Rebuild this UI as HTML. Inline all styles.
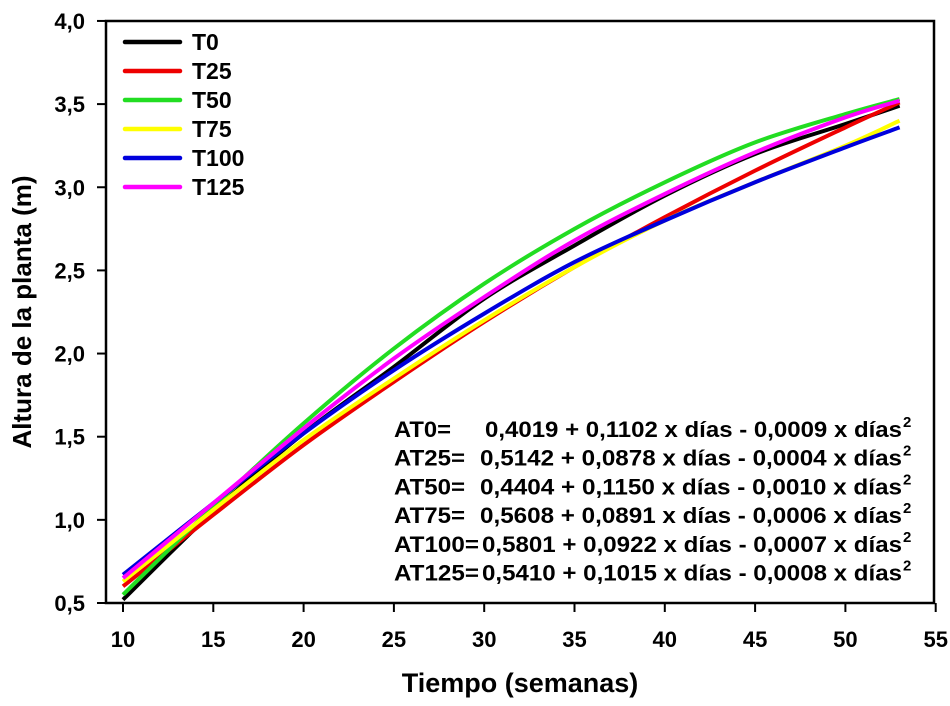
<!DOCTYPE html>
<html><head><meta charset="utf-8"><style>
body{margin:0;background:#fff;}
svg text{font-family:"Liberation Sans",Arial,sans-serif;font-weight:bold;fill:#000;}
</style></head><body>
<svg width="950" height="701" viewBox="0 0 950 701" xmlns="http://www.w3.org/2000/svg">
<g id="plot"></g>
</svg>
<script>
const weeks = [10,15,20,25,30,35,40,45,50,53];
const seriesNames = ['T0','T25','T50','T75','T100','T125'];
const seriesColors = ['#000000','#ee0000','#22dd22','#ffff00','#0000dd','#ff00ff'];
const t0   = [0.52,1.05,1.52,1.92,2.33,2.65,2.95,3.20,3.38,3.49];
const t25  = [0.60,1.03,1.45,1.83,2.19,2.52,2.82,3.10,3.36,3.51];
const t50  = [0.55,1.08,1.58,2.03,2.42,2.75,3.03,3.27,3.44,3.53];
const t75  = [0.63,1.06,1.48,1.85,2.20,2.52,2.80,3.03,3.25,3.40];
const t100 = [0.67,1.10,1.52,1.90,2.24,2.55,2.80,3.03,3.24,3.36];
const t125 = [0.65,1.10,1.55,1.97,2.34,2.68,2.96,3.21,3.42,3.52];
const xTicks = [10,15,20,25,30,35,40,45,50,55];
const yTicks = [0.5,1.0,1.5,2.0,2.5,3.0,3.5,4.0];
const yTickLabels = ['0,5','1,0','1,5','2,0','2,5','3,0','3,5','4,0'];
const eqLabels = ['AT0=','AT25=','AT50=','AT75=','AT100=','AT125='];
const eqFormulas = [
 '0,4019 + 0,1102 x días - 0,0009 x días',
 '0,5142 + 0,0878 x días - 0,0004 x días',
 '0,4404 + 0,1150 x días - 0,0010 x días',
 '0,5608 + 0,0891 x días - 0,0006 x días',
 '0,5801 + 0,0922 x días - 0,0007 x días',
 '0,5410 + 0,1015 x días - 0,0008 x días'
];
const allSeries = [t0,t25,t50,t75,t100,t125];

const X = v => 123 + (v-10)*18.06;
const Y = v => 603 - (v-0.5)*166.3;
const NS='http://www.w3.org/2000/svg';
const g=document.getElementById('plot');
function mk(tag,attrs,parent){const e=document.createElementNS(NS,tag);for(const k in attrs)e.setAttribute(k,attrs[k]);(parent||g).appendChild(e);return e;}

let e=mk('path',{d:'M106 21 H934 V603 H106 Z',fill:'none',stroke:'#000','stroke-width':2.5});



yTicks.forEach((v,i)=>{
 let t=mk('line',{x1:97,x2:106,y1:Y(v),y2:Y(v),stroke:'#000','stroke-width':2});
 
 
 let l=mk('text',{x:85,y:Y(v)+8,'text-anchor':'end','font-size':22});
 l.textContent=yTickLabels[i];
 
 
});
xTicks.forEach(v=>{
 let t=mk('line',{x1:X(v),x2:X(v),y1:603,y2:612,stroke:'#000','stroke-width':2});
 
 
 let l=mk('text',{x:X(v),y:647,'text-anchor':'middle','font-size':22});
 l.textContent=String(v);
 
 
});
e=mk('text',{x:520,y:692,'text-anchor':'middle','font-size':27});
e.textContent='Tiempo (semanas)';


e=mk('text',{x:0,y:0,'text-anchor':'middle','font-size':26,transform:'translate(31,312) rotate(-90)'});
e.textContent='Altura de la planta (m)';



function smooth(xs,ys){
 const p=xs.map((x,i)=>[X(x),Y(ys[i])]);
 let d='M'+p[0][0]+' '+p[0][1];
 for(let i=0;i<p.length-1;i++){
  const p0=p[i-1]||p[i],p1=p[i],p2=p[i+1],p3=p[i+2]||p2;
  const c1=[p1[0]+(p2[0]-p0[0])/6,p1[1]+(p2[1]-p0[1])/6];
  const c2=[p2[0]-(p3[0]-p1[0])/6,p2[1]-(p3[1]-p1[1])/6];
  d+=` C${c1[0]} ${c1[1]} ${c2[0]} ${c2[1]} ${p2[0]} ${p2[1]}`;
 }
 return d;
}
allSeries.forEach((s,i)=>{
 let p=mk('path',{d:smooth(weeks,s),fill:'none',stroke:seriesColors[i],'stroke-width':4});
 
 
});

seriesNames.forEach((n,i)=>{
 const y=42+i*29;
 let l=mk('line',{x1:125,x2:180,y1:y,y2:y,stroke:seriesColors[i],'stroke-width':4.5,'stroke-linecap':'round'});
 
 
 let t=mk('text',{x:192,y:y+8,'font-size':23});
 t.textContent=n;
 
 
});

const eqStart=[485,480,480,480,482,482];
const labW=[57,71,71,71,85,85];
eqLabels.forEach((lab,i)=>{
 const y=437+i*28.7;
 let a=mk('text',{x:394,y:y,'font-size':22,textLength:labW[i],lengthAdjust:'spacingAndGlyphs'});
 a.textContent=lab;
 
 
 let b=mk('text',{x:eqStart[i],y:y,'font-size':22,textLength:902-eqStart[i],lengthAdjust:'spacingAndGlyphs'});
 b.textContent=eqFormulas[i];
 
 
 let s=mk('text',{x:903,y:y-10,'font-size':15});
 s.textContent='2';
 
 
});
</script>
</body></html>
